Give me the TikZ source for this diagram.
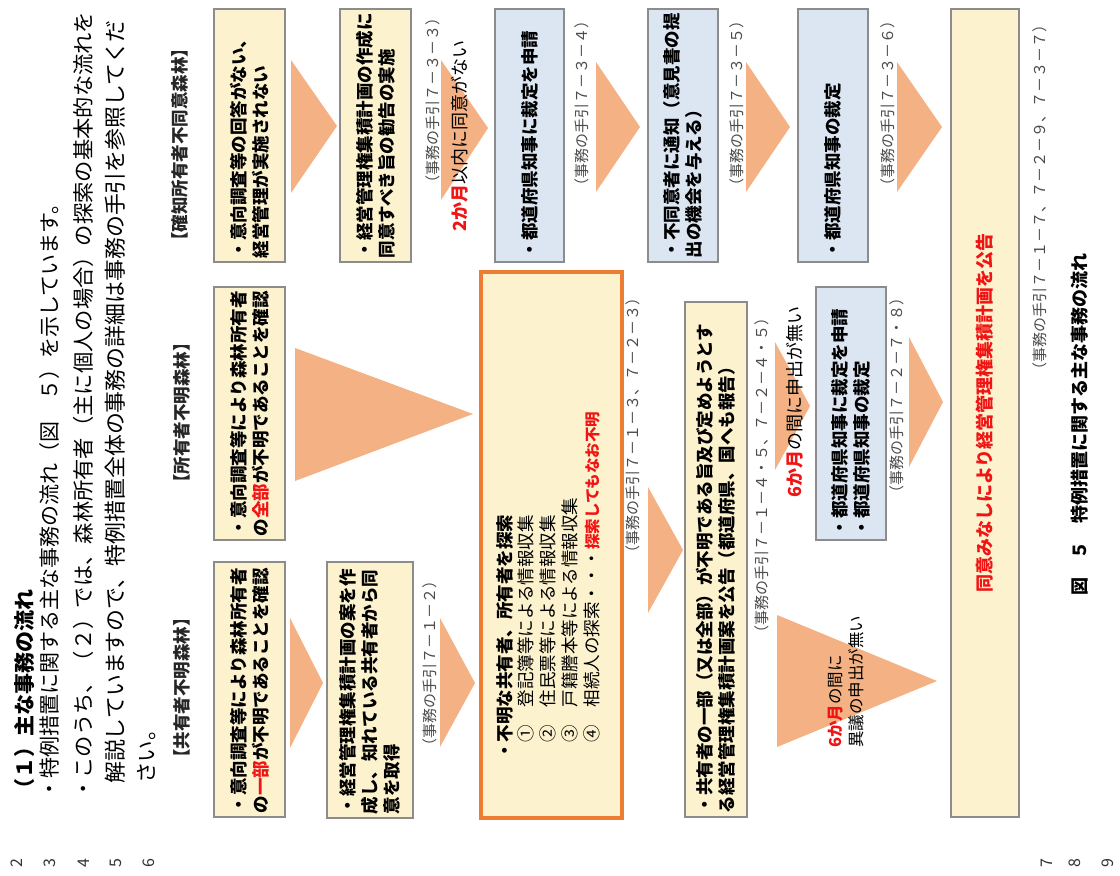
\documentclass[tikz,border=0pt]{standalone}
\usepackage{fontspec}
\setmainfont{Noto Sans CJK JP}
\definecolor{cream}{RGB}{253,242,206}
\definecolor{lblue}{RGB}{220,230,242}
\definecolor{bgray}{RGB}{140,140,140}
\definecolor{oborder}{RGB}{237,125,49}
\definecolor{trifill}{RGB}{244,177,131}
\definecolor{refgray}{RGB}{75,75,75}
\definecolor{jred}{RGB}{240,20,20}
\newcommand{\jfs}[2]{\fontsize{#1}{#2}\selectfont}
\begin{document}
\begin{tikzpicture}[x=1pt,y=-1pt,
  box/.style={draw=bgray, line width=1.5pt, rotate=90, inner xsep=4pt, inner ysep=0pt, align=left, font=\bfseries\jfs{17.5}{22}},
  ybox/.style={box, fill=cream},
  bbox/.style={box, fill=lblue},
  arrowtri/.style={fill=trifill},
  ref/.style={rotate=90, text=refgray, font=\jfs{15}{15}, inner sep=0pt, anchor=east},
  lbl/.style={rotate=90, inner sep=0pt, anchor=west},
  lineno/.style={rotate=90, inner sep=0pt, font=\jfs{16}{16}, text=black!80},
]
\useasboundingbox (0,0) rectangle (1120,876);
\fill[white] (0,0) rectangle (1120,876);

% header text
\node[lbl, font=\bfseries\jfs{21}{21}] (h1) at (25,800) {（１）主な事務の流れ};
\node[lbl, font=\jfs{21}{21}] (h2) at (50,800) {・特例措置に関する主な事務の流れ（図　５）を示しています。};
\node[lbl, font=\jfs{21.3}{21}] (h3) at (83,800) {・このうち、（２）では、森林所有者（主に個人の場合）の探索の基本的な流れを};
\node[lbl, font=\jfs{21.9}{21}] (h4) at (115,784) {解説していますので、特例措置全体の事務の詳細は事務の手引を参照してくだ};
\node[lbl, font=\jfs{21.5}{21}] (h5) at (147,784) {さい。};

% line numbers
\node[lineno] (n2) at (17,863) {2};
\node[lineno] (n3) at (50,863) {3};
\node[lineno] (n4) at (84,863) {4};
\node[lineno] (n5) at (116,863) {5};
\node[lineno] (n6) at (149,863) {6};
\node[lineno] (n7) at (1047,863) {7};
\node[lineno] (n8) at (1075,863) {8};
\node[lineno] (n9) at (1108,863) {9};

% category labels
\node[lbl, font=\bfseries\jfs{17.5}{17.5}, text=black!85] (cat1) at (182,767) {【共有者不明森林】};
\node[lbl, font=\bfseries\jfs{17.5}{17.5}, text=black!85] (cat2) at (182,492) {【所有者不明森林】};
\node[lbl, font=\bfseries\jfs{17.5}{17.5}, text=black!85] (cat3) at (180,250) {【確知所有者不同意森林】};

% triangles (arrows)
\fill[arrowtri] (291,60) -- (337,126) -- (291,193) -- cycle;
\fill[arrowtri] (441,60) -- (488,128) -- (441,200) -- cycle;
\fill[arrowtri] (596,62) -- (640,127) -- (596,192) -- cycle;
\fill[arrowtri] (746,62) -- (790,127) -- (746,192) -- cycle;
\fill[arrowtri] (897,62) -- (942,127) -- (897,192) -- cycle;
\fill[arrowtri] (295,348) -- (473,414) -- (295,481) -- cycle;
\fill[arrowtri] (290,618) -- (323,683) -- (290,748) -- cycle;
\fill[arrowtri] (440,618) -- (475,683) -- (440,747) -- cycle;
\fill[arrowtri] (648,487) -- (683,550) -- (648,613) -- cycle;
\fill[arrowtri] (775,342) -- (810,406) -- (775,470) -- cycle;
\fill[arrowtri] (777,615) -- (937,681) -- (777,747) -- cycle;
\fill[arrowtri] (909,337) -- (943,402) -- (909,467) -- cycle;

% boxes: top row (確知所有者不同意森林)
\node[ybox, minimum width=253pt, minimum height=71pt, text width=245pt] (a2) at (249.5,135.5) {・意向調査等の回答がない、\\経営管理が実施されない};
\node[ybox, minimum width=253pt, minimum height=71pt, text width=245pt] (a3) at (375.5,135.5) {・経営管理権集積計画の作成に\\同意すべき旨の勧告の実施};
\node[bbox, minimum width=253pt, minimum height=69pt, text width=245pt] (a4) at (529.5,135.5) {・都道府県知事に裁定を申請};
\node[bbox, minimum width=253pt, minimum height=70pt, text width=245pt] (a5) at (683,135.5) {・不同意者に通知（意見書の提\\出の機会を与える）};
\node[bbox, minimum width=253pt, minimum height=70pt, text width=245pt] (a6) at (833,135.5) {・都道府県知事の裁定};

% middle row (所有者不明森林)
\node[ybox, minimum width=253pt, minimum height=71pt, text width=245pt] (b1) at (249.5,413.5) {・意向調査等により森林所有者\\の{\color{jred}全部}が不明であることを確認};
\node[bbox, minimum width=253pt, minimum height=70pt, text width=245pt] (b3) at (851,413.5) {・都道府県知事に裁定を申請\\・都道府県知事の裁定};

% bottom row (共有者不明森林)
\node[ybox, minimum width=255pt, minimum height=71pt, text width=247pt] (c1) at (249.5,689.5) {・意向調査等により森林所有者\\の{\color{jred}一部}が不明であることを確認};
\node[ybox, minimum width=256pt, minimum height=86pt, text width=248pt] (c2) at (370,690) {・経営管理権集積計画の案を作\\成し、知れている共有者から同\\意を取得};
\node[ybox, minimum width=515pt, minimum height=62pt, text width=507pt] (c3) at (716,559.5) {・共有者の一部（又は全部）が不明である旨及び定めようとす\\る経営管理権集積計画案を公告（都道府県、国へも報告）};

% orange search box
\node[draw=oborder, line width=4pt, fill=cream, rotate=90, minimum width=546pt, minimum height=141pt, inner sep=0pt] (obox) at (551.5,545) {};
\node[lbl, align=left, font=\jfs{17.5}{21.7}] (otext) at (548,760) {\textbf{・不明な共有者、所有者を探索}\\
　①　登記簿等による情報収集\\
　②　住民票等による情報収集\\
　③　戸籍謄本等による情報収集\\
　④　相続人の探索・・・{\color{jred}\bfseries\jfs{15.5}{21.7}探索してもなお不明}};

% final box
\node[ybox, minimum width=808pt, minimum height=68pt, text width=800pt, align=center, text=jred, font=\bfseries\jfs{18}{22}] (fbox) at (985,413) {同意みなしにより経営管理権集積計画を公告};

% condition labels
\node[lbl, font=\jfs{18}{18}] (m2) at (460,232) {{\color{jred}\bfseries 2か月}以内に同意がない};
\node[lbl, font=\jfs{18}{18}] (m6a) at (795,498) {{\color{jred}\bfseries 6か月}の間に申出が無い};
\node[lbl, align=left, font=\jfs{16.5}{21}] (m6b) at (846.5,748) {{\color{jred}\bfseries 6か月}の間に\\異議の申出が無い};

% references
\node[ref] (r33) at (433,10) {（事務の手引７－３－３）};
\node[ref] (r34) at (582,13) {（事務の手引７－３－４）};
\node[ref] (r35) at (737,13) {（事務の手引７－３－５）};
\node[ref] (r36) at (888,13) {（事務の手引７－３－６）};
\node[ref] (r37) at (1040,17) {（事務の手引７－１－７、７－２－９、７－３－７）};
\node[ref] (r12) at (430,573) {（事務の手引７－１－２）};
\node[ref] (r13) at (633,290) {（事務の手引７－１－３、７－２－３）};
\node[ref] (r145) at (762,310) {（事務の手引７－１－４・５、７－２－４・５）};
\node[ref] (r278) at (897,290) {（事務の手引７－２－７・８）};

% caption
\node[lbl, font=\bfseries\jfs{18}{18}] (cap) at (1080,596) {図　５　特例措置に関する主な事務の流れ};
\end{tikzpicture}
\end{document}
